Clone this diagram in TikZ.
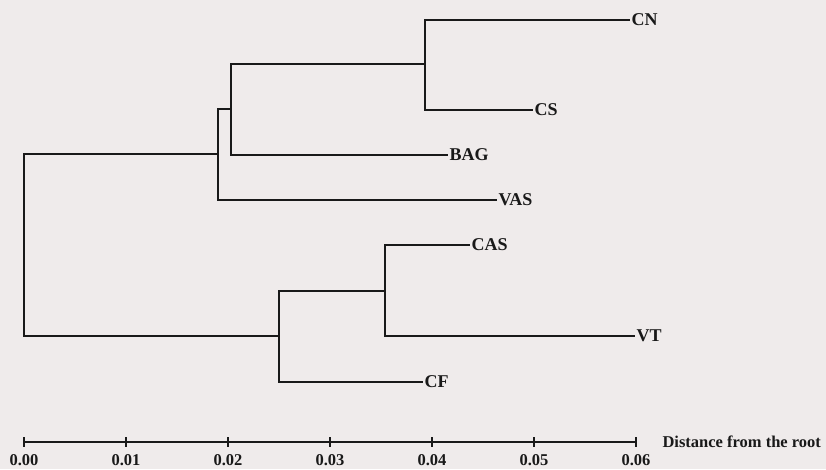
\documentclass[tikz,border=0pt]{standalone}
\usepackage{fontspec}
\setmainfont{Liberation Serif}
\definecolor{bgc}{RGB}{239,235,235}
\definecolor{ink}{RGB}{25,25,25}
\begin{document}
\begin{tikzpicture}[x=1pt,y=-1pt,
  branch/.style={draw=ink,line width=1.7pt},
  leaf/.style={anchor=west,inner xsep=1.5pt,inner ysep=0pt,text=ink,font=\fontsize{18}{18}\selectfont\bfseries},
  ticklab/.style={anchor=center,text=ink,font=\fontsize{16.5}{16.5}\selectfont\bfseries},
  axislab/.style={anchor=west,text=ink,font=\fontsize{16.5}{16.5}\selectfont\bfseries}]
\fill[bgc] (0,0) rectangle (826,469);
\useasboundingbox (0,0) rectangle (826,469);
% internal nodes
\coordinate (root) at (24,245);
\coordinate (n1) at (218,154);
\coordinate (n2) at (231,109);
\coordinate (n3) at (425,64);
\coordinate (n4) at (279,336);
\coordinate (n5) at (385,291);
% leaves
\node[leaf] (CN) at (630,20) {CN};
\node[leaf] (CS) at (533,110) {CS};
\node[leaf] (BAG) at (448,155) {BAG};
\node[leaf] (VAS) at (497,200) {VAS};
\node[leaf] (CAS) at (470,245) {CAS};
\node[leaf] (VT) at (635,336) {VT};
\node[leaf] (CF) at (423,382) {CF};
% branches
\draw[branch] (root) |- (n1);
\draw[branch] (root) |- (n4);
\draw[branch] (n1) |- (n2);
\draw[branch] (n1) |- (VAS.west);
\draw[branch] (n2) |- (n3);
\draw[branch] (n2) |- (BAG.west);
\draw[branch] (n3) |- (CN.west);
\draw[branch] (n3) |- (CS.west);
\draw[branch] (n4) |- (n5);
\draw[branch] (n4) |- (CF.west);
\draw[branch] (n5) |- (CAS.west);
\draw[branch] (n5) |- (VT.west);
% scale axis
\foreach \i/\lab in {0/0.00,1/0.01,2/0.02,3/0.03,4/0.04,5/0.05,6/0.06}{
  \coordinate (t\i) at ({24+\i*102},442);
  \draw[branch,line width=1.5pt] (t\i) ++(0,-5) -- ++(0,10);
  \node[ticklab] (l\i) at ({24+\i*102},460) {\lab};
}
\draw[branch,line width=1.5pt] (t0) -- (t6);
\node[axislab] (axt) at (659,442) {Distance from the root};
\end{tikzpicture}
\end{document}
